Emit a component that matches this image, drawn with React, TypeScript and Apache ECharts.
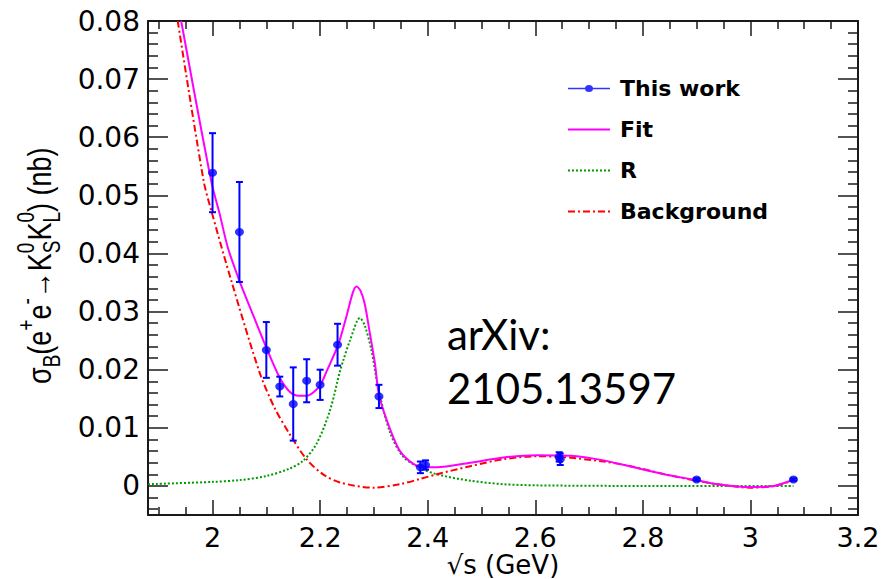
import React, { useEffect, useRef } from "react";
import * as echarts from "echarts";

const energies = [2.0, 2.05, 2.1, 2.125, 2.15, 2.175, 2.2, 2.2324, 2.3094, 2.3864, 2.396, 2.6444, 2.6464, 2.9, 3.08];
const sigma = [0.0539, 0.0437, 0.0234, 0.0171, 0.0141, 0.0181, 0.0174, 0.0243, 0.0154, 0.0032, 0.0036, 0.0050, 0.0046, 0.0011, 0.0011];
const sigmaErr = [0.0068, 0.0086, 0.0048, 0.0017, 0.0063, 0.0037, 0.0026, 0.0036, 0.0020, 0.0010, 0.0008, 0.0008, 0.0010, 0.0002, 0.0002];

const fitX = [1.9417, 1.9976, 2.013, 2.0285, 2.05, 2.075, 2.1, 2.125, 2.1435, 2.16, 2.175, 2.19, 2.2007, 2.212, 2.2336, 2.2484, 2.261, 2.2678, 2.275, 2.283, 2.2926, 2.302, 2.31, 2.33, 2.3485, 2.3733, 2.392, 2.417, 2.479, 2.541, 2.603, 2.665, 2.7275, 2.783, 2.846, 2.9, 2.939, 3.0, 3.044, 3.0805];
const fitY = [0.0800, 0.0524, 0.0469, 0.0410, 0.0353, 0.0295, 0.0238, 0.0186, 0.0162, 0.0155, 0.0155, 0.0163, 0.0174, 0.0197, 0.0243, 0.0290, 0.0333, 0.0343, 0.0336, 0.0313, 0.0262, 0.0210, 0.0154, 0.0098, 0.0060, 0.0038, 0.0032, 0.0032, 0.0040, 0.0049, 0.0053, 0.0052, 0.0044, 0.0032, 0.0019, 0.0010, 0.0003, -0.0002, 0.0000, 0.0011];

const rX = [1.88, 2.0, 2.05, 2.1, 2.1435, 2.168, 2.193, 2.218, 2.237, 2.243, 2.2554, 2.274, 2.283, 2.2955, 2.308, 2.33, 2.3547, 2.386, 2.417, 2.479, 2.541, 2.603, 2.8, 3.08];
const rY = [0.0003, 0.0007, 0.0010, 0.0017, 0.0030, 0.0043, 0.0072, 0.0129, 0.0198, 0.0216, 0.0250, 0.0289, 0.0276, 0.0233, 0.0169, 0.0092, 0.0050, 0.0031, 0.0020, 0.0009, 0.0003, 0.0001, 0.0, 0.0];

const bgX = [1.9353, 1.9832, 1.9976, 2.0349, 2.0876, 2.115, 2.1435, 2.1747, 2.2056, 2.2367, 2.2988, 2.3486, 2.3858, 2.417, 2.479, 2.541, 2.603, 2.647, 2.7275, 2.777, 2.846, 2.9, 2.939, 3.0, 3.044, 3.0805];
const bgY = [0.0800, 0.0526, 0.0474, 0.0353, 0.0195, 0.0135, 0.0089, 0.0046, 0.0020, 0.0006, -0.0003, 0.0003, 0.0012, 0.0020, 0.0034, 0.0046, 0.0051, 0.0050, 0.0042, 0.0034, 0.0019, 0.0009, 0.0003, -0.0003, 0.0000, 0.0010];

// ---- axes ----
const XMIN = 1.88, XMAX = 3.2, YMIN = -0.005, YMAX = 0.08;
const xTickLabels = [2.0, 2.2, 2.4, 2.6, 2.8, 3.0, 3.2];
const yTickLabels = [0, 0.01, 0.02, 0.03, 0.04, 0.05, 0.06, 0.07, 0.08];
const xMinorTicks: number[] = [];
for (let i = 0; i * 0.05 + 1.9 <= XMAX + 1e-9; i++) {
  const v = +(1.9 + i * 0.05).toFixed(3);
  if (!xTickLabels.some((m) => Math.abs(m - v) < 1e-6)) xMinorTicks.push(v);
}
const yMinorTicks: number[] = [];
for (let i = 0; -0.004 + i * 0.002 <= YMAX + 1e-9; i++) {
  const v = +(-0.004 + i * 0.002).toFixed(4);
  if (!yTickLabels.some((m) => Math.abs(m - v) < 1e-7)) yMinorTicks.push(v);
}

const yTitlePieces = [
  { t: "σ", kind: "main" }, { t: "B", kind: "sub" }, { t: "(e", kind: "main" }, { t: "+", kind: "sup" },
  { t: "e", kind: "main" }, { t: "-", kind: "sup" }, { t: "→", kind: "main" }, { t: "K", kind: "main" },
  { t: "0", t2: "S", kind: "stack" }, { t: "K", kind: "main" }, { t: "0", t2: "L", kind: "stack" },
  { t: ") (nb)", kind: "main" },
];

const FRAME = "#1a1a1a";
const AX_FONT = "DejaVu Sans";

function measure(text: string, font: string): number {
  const ctx = document.createElement("canvas").getContext("2d");
  if (!ctx) return text.length * 10;
  ctx.font = font;
  return ctx.measureText(text).width;
}

function buildYTitle() {
  const F = 27, f = 19, fam = "Liberation Sans";
  const mainFont = `${F}px "${fam}"`, smallFont = `${f}px "${fam}"`;
  const subDy = 0.36 * F, supDy = -0.42 * F;
  const children: any[] = [];
  let cx = 0;
  const add = (t: string, small: boolean, dy: number) => {
    children.push({
      type: "text", x: cx, y: dy,
      style: { text: t, fontSize: small ? f : F, fontFamily: fam, fill: "#000", align: "left", verticalAlign: "middle" },
    });
  };
  for (const p of yTitlePieces as any[]) {
    if (p.kind === "main") { add(p.t, false, 0); cx += measure(p.t, mainFont); }
    else if (p.kind === "sub") { add(p.t, true, subDy); cx += measure(p.t, smallFont); }
    else if (p.kind === "sup") { add(p.t, true, supDy); cx += measure(p.t, smallFont); }
    else {
      add(p.t, true, supDy); add(p.t2, true, subDy);
      cx += Math.max(measure(p.t, smallFont), measure(p.t2, smallFont));
    }
  }
  return { type: "group", x: 40, y: 384, rotation: Math.PI / 2, scaleY: 1.22, children };
}

function xAxisDef(position: "bottom" | "top", ticks: number[], len: number, line: boolean, labels: boolean) {
  return {
    type: "value", position, min: XMIN, max: XMAX,
    axisLine: { show: line, onZero: false, lineStyle: { color: FRAME, width: 2 } },
    axisTick: { show: true, inside: true, length: len, customValues: ticks, lineStyle: { color: FRAME, width: 1.5 } },
    axisLabel: labels
      ? { show: true, customValues: xTickLabels, formatter: (v: number) => String(v), color: "#000", fontSize: 27, lineHeight: 27, fontFamily: AX_FONT, margin: 9 }
      : { show: false },
    splitLine: { show: false },
    ...(labels
      ? {
          name: "√s (GeV)", nameLocation: "middle", nameGap: 37, nameMoveOverlap: false,
          nameTextStyle: { color: "#000", fontSize: 26, lineHeight: 26, fontFamily: AX_FONT },
        }
      : {}),
  };
}
function yAxisDef(position: "left" | "right", ticks: number[], len: number, line: boolean, labels: boolean) {
  return {
    type: "value", position, min: YMIN, max: YMAX,
    axisLine: { show: line, onZero: false, lineStyle: { color: FRAME, width: 2 } },
    axisTick: { show: true, inside: true, length: len, customValues: ticks, lineStyle: { color: FRAME, width: 1.5 } },
    axisLabel: labels
      ? { show: true, customValues: yTickLabels, formatter: (v: number) => String(v), color: "#000", fontSize: 28, fontFamily: AX_FONT, margin: 8 }
      : { show: false },
    splitLine: { show: false },
  };
}

// legend icons as filled paths (42 x 14 box)
const BOX = "M0,0L0.01,0L0.01,0.01Z M41.99,13.99L42,14L41.99,14Z ";
const segPath = (segs: number[][]) => "path://" + BOX + segs.map(([a, b]) => `M${a},6H${b}V8H${a}Z`).join(" ");
const fitIcon = segPath([[0, 42]]);
const rIcon = segPath(Array.from({ length: 11 }, (_, i) => [i * 4, i * 4 + 2]));
const bgIcon = segPath([[0, 7], [10, 12], [15, 22], [25, 27], [30, 37], [40, 42]]);
const dataIcon = "path://" + BOX + "M0,6.25H42V7.75H0Z M25,7A4,3.5 0 1 1 17,7A4,3.5 0 1 1 25,7Z";

export default function App() {
  const ref = useRef<HTMLDivElement>(null);
  useEffect(() => {
    if (!ref.current) return;
    const chart = echarts.init(ref.current, null, { renderer: "svg" });
    const zip = (xs: number[], ys: number[]) => xs.map((x, i) => [x, ys[i]]);
    chart.setOption({
      animation: false,
      backgroundColor: "#fff",
      grid: { left: 148, right: 23, top: 21, bottom: 64, containLabel: false, outerBoundsMode: "none" },
      xAxis: [
        xAxisDef("bottom", xTickLabels, 15, true, true),
        xAxisDef("bottom", xMinorTicks, 8, false, false),
        xAxisDef("top", xTickLabels, 15, true, false),
        xAxisDef("top", xMinorTicks, 8, false, false),
      ],
      yAxis: [
        yAxisDef("left", yTickLabels, 20, true, true),
        yAxisDef("left", yMinorTicks, 10, false, false),
        yAxisDef("right", yTickLabels, 20, true, false),
        yAxisDef("right", yMinorTicks, 10, false, false),
      ],
      legend: {
        orient: "vertical", left: 568, top: 77.5, padding: 0, itemGap: 19,
        itemWidth: 42, itemHeight: 14, selectedMode: false,
        itemStyle: { borderWidth: 0 },
        textStyle: { color: "#000", fontSize: 22, fontWeight: "bold", fontFamily: AX_FONT, lineHeight: 22, padding: [0, 0, 0, 5] },
        data: [
          { name: "This work", icon: dataIcon },
          { name: "Fit", icon: fitIcon },
          { name: "R", icon: rIcon },
          { name: "Background", icon: bgIcon },
        ],
      },
      series: [
        {
          name: "R", type: "line", data: zip(rX, rY), smooth: 0.3, symbol: "none",
          lineStyle: { color: "#009a00", width: 2, type: [2, 2] }, itemStyle: { color: "#009a00" }, z: 2,
        },
        {
          name: "Background", type: "line", data: zip(bgX, bgY), smooth: 0.3, symbol: "none",
          lineStyle: { color: "#ff0000", width: 2, type: [7, 3, 2, 3] }, itemStyle: { color: "#ff0000" }, z: 3,
        },
        {
          name: "Fit", type: "line", data: zip(fitX, fitY), smooth: 0.3, symbol: "none",
          lineStyle: { color: "#ff00ff", width: 2 }, itemStyle: { color: "#ff00ff" }, z: 4,
        },
        {
          name: "errors", type: "custom", z: 5,
          data: energies.map((x, i) => [x, sigma[i], sigmaErr[i]]),
          encode: { x: 0, y: 1 },
          renderItem: (_p: any, api: any) => {
            const x = api.value(0), y = api.value(1), e = api.value(2);
            const top = api.coord([x, y + e]);
            const bot = api.coord([x, y - e]);
            const cap = 3.5;
            const st = { stroke: "#0000ff", lineWidth: 2 };
            return {
              type: "group",
              children: [
                { type: "line", shape: { x1: top[0], y1: top[1], x2: bot[0], y2: bot[1] }, style: st },
                { type: "line", shape: { x1: top[0] - cap, y1: top[1], x2: top[0] + cap, y2: top[1] }, style: st },
                { type: "line", shape: { x1: bot[0] - cap, y1: bot[1], x2: bot[0] + cap, y2: bot[1] }, style: st },
              ],
            };
          },
        },
        {
          name: "This work", type: "scatter", data: zip(energies, sigma), symbol: "circle", symbolSize: [9, 8],
          itemStyle: { color: "#0000ff" }, z: 6,
        },
      ],
      graphic: [
        buildYTitle(),
        {
          type: "text", x: 447, y: 307,
          style: { text: "arXiv:\n2105.13597", fontSize: 42, fontFamily: "Lato", lineHeight: 54, fill: "#000", verticalAlign: "top", align: "left" },
        },
      ],
    });
    return () => chart.dispose();
  }, []);
  return <div ref={ref} style={{ position: "fixed", left: 0, top: 0, width: 881, height: 579, background: "#fff" }} />;
}
